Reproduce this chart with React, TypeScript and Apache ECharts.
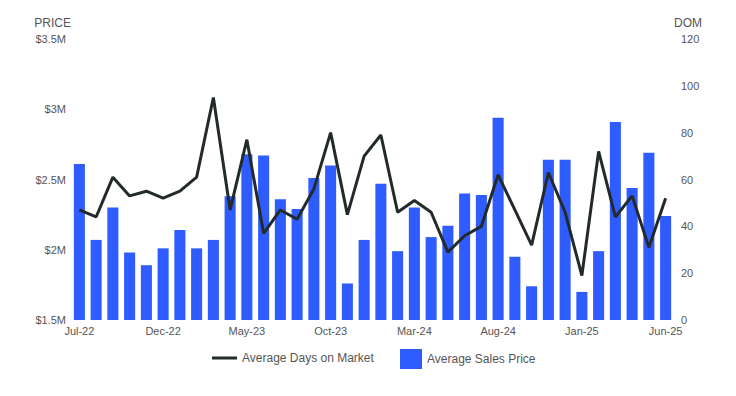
import React, { useEffect, useRef } from "react";
import * as echarts from "echarts";

const months = [
  "Jul-22", "Aug-22", "Sep-22", "Oct-22", "Nov-22", "Dec-22",
  "Jan-23", "Feb-23", "Mar-23", "Apr-23", "May-23", "Jun-23",
  "Jul-23", "Aug-23", "Sep-23", "Oct-23", "Nov-23", "Dec-23",
  "Jan-24", "Feb-24", "Mar-24", "Apr-24", "May-24", "Jun-24",
  "Jul-24", "Aug-24", "Sep-24", "Oct-24", "Nov-24", "Dec-24",
  "Jan-25", "Feb-25", "Mar-25", "Apr-25", "May-25", "Jun-25",
];

// Average Sales Price, in millions of dollars
const avgPrice = [
  2.61, 2.07, 2.30, 1.98, 1.89, 2.01,
  2.14, 2.01, 2.07, 2.38, 2.68, 2.67,
  2.36, 2.29, 2.51, 2.60, 1.76, 2.07,
  2.47, 1.99, 2.30, 2.09, 2.17, 2.40,
  2.39, 2.94, 1.95, 1.74, 2.64, 2.64,
  1.70, 1.99, 2.91, 2.44, 2.69, 2.24,
];

// Average Days on Market
const avgDom = [
  47, 44, 61, 53, 55, 52,
  55, 61, 95, 47, 77, 37,
  47, 43, 56, 80, 45, 70,
  79, 46, 51, 46, 29, 36,
  40, 62, 47, 32, 63, 46,
  19, 72, 44, 53, 31, 52,
];

const priceTicks = { min: 1.5, max: 3.5, interval: 0.5 };
const domTicks = { min: 0, max: 120, interval: 20 };

const FONT = 'Arial, "Liberation Sans", sans-serif';
const TEXT = "#555";
const LINE = "#232a2a";
const BAR = "#2f5cff";

export default function App() {
  const ref = useRef<HTMLDivElement>(null);

  useEffect(() => {
    if (!ref.current) return;
    const chart = echarts.init(ref.current, null, { renderer: "svg" });
    chart.setOption({
      animation: false,
      textStyle: { fontFamily: FONT },
      grid: { left: 71, right: 62, top: 39, bottom: 76, containLabel: false },
      legend: [
        {
          left: 212,
          top: 352,
          padding: 0,
          itemWidth: 25,
          itemHeight: 3,
          itemGap: 5,
          textStyle: { color: TEXT, fontSize: 12, fontFamily: FONT },
          data: [
            {
              name: "Average Days on Market",
              icon: "rect",
              itemStyle: { color: LINE },
            },
          ],
        },
        {
          left: 400,
          top: 349,
          padding: 0,
          itemWidth: 22,
          itemHeight: 20,
          textStyle: { color: TEXT, fontSize: 12, fontFamily: FONT },
          data: [{ name: "Average Sales Price", icon: "rect" }],
        },
      ],
      xAxis: {
        type: "category",
        data: months,
        axisLine: { show: false },
        axisTick: { show: false },
        axisLabel: {
          interval: 4,
          color: TEXT,
          fontSize: 11,
          fontFamily: FONT,
          margin: 5,
        },
      },
      yAxis: [
        {
          type: "value",
          name: "PRICE",
          nameLocation: "end",
          nameGap: 10,
          nameTextStyle: { color: TEXT, fontSize: 12, align: "right", fontFamily: FONT },
          min: priceTicks.min,
          max: priceTicks.max,
          interval: priceTicks.interval,
          splitLine: { show: false },
          axisLine: { show: false },
          axisTick: { show: false },
          axisLabel: {
            color: TEXT,
            fontSize: 11,
            fontFamily: FONT,
            margin: 5,
            formatter: (v: number) => `$${v}M`,
          },
        },
        {
          type: "value",
          name: "DOM",
          nameLocation: "end",
          nameGap: 10,
          nameTextStyle: { color: TEXT, fontSize: 12, align: "left", fontFamily: FONT },
          min: domTicks.min,
          max: domTicks.max,
          interval: domTicks.interval,
          splitLine: { show: false },
          axisLine: { show: false },
          axisTick: { show: false },
          axisLabel: { color: TEXT, fontSize: 11, fontFamily: FONT, margin: 7 },
        },
      ],
      series: [
        {
          name: "Average Sales Price",
          type: "bar",
          yAxisIndex: 0,
          data: avgPrice,
          barWidth: "66%",
          itemStyle: { color: BAR },
          z: 1,
        },
        {
          name: "Average Days on Market",
          type: "line",
          yAxisIndex: 1,
          data: avgDom,
          symbol: "none",
          lineStyle: { color: LINE, width: 3 },
          itemStyle: { color: LINE },
          z: 3,
        },
      ],
    });
    return () => chart.dispose();
  }, []);

  return (
    <div
      ref={ref}
      style={{ position: "fixed", left: 0, top: 0, width: 736, height: 396, background: "#fff" }}
    />
  );
}
